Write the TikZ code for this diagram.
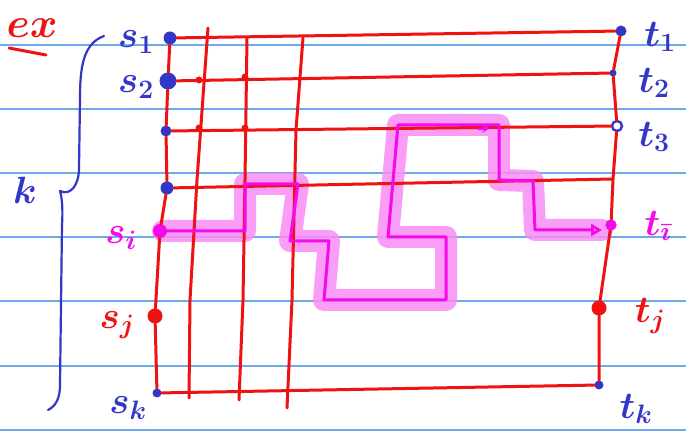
\RequirePackage{fix-cm}
\documentclass[tikz,border=0pt]{standalone}
\usetikzlibrary{arrows.meta}
\definecolor{penred}{RGB}{240,18,18}
\definecolor{penblue}{RGB}{50,55,200}
\definecolor{penmag}{RGB}{245,10,235}
\definecolor{hilite}{RGB}{250,140,245}
\definecolor{rulecol}{RGB}{110,170,235}
\tikzset{
  rule/.style={draw=rulecol, line width=1.4pt},
  redline/.style={draw=penred, line width=3pt, line cap=round, line join=round},
  bluedot/.style={circle, fill=penblue, inner sep=0pt, minimum size=#1},
  reddot/.style={circle, fill=penred, inner sep=0pt, minimum size=#1},
  magdot/.style={circle, fill=penmag, inner sep=0pt, minimum size=#1},
  ringdot/.style={circle, draw=penblue, line width=2.4pt, fill=white, inner sep=0pt, minimum size=#1},
  lab/.style={inner sep=0pt, font=\fontsize{38}{38}\selectfont\boldmath},
  hl/.style={draw=hilite, line width=22pt, line join=round, line cap=round, opacity=0.85},
  pathline/.style={draw=penmag, line width=3pt, line join=round, line cap=round},
}
\begin{document}
\begin{tikzpicture}[x=1pt,y=-1pt]
\useasboundingbox (0,0) rectangle (686,438);
\fill[white] (0,0) rectangle (686,438);
% notebook ruling
\foreach \y in {45,109,173,237,301,366,430} \draw[rule] (0,\y) -- (686,\y);

% highlighted path (under the grid)
\coordinate (p0) at (163,231);
\coordinate (p1) at (245,231);
\coordinate (p2) at (245,184);
\coordinate (p3) at (298,184);
\coordinate (p4) at (290,241);
\coordinate (p5) at (329,241);
\coordinate (p6) at (324,300);
\coordinate (p7) at (446,300);
\coordinate (p8) at (446,237);
\coordinate (p9) at (388,237);
\coordinate (p10) at (398,125);
\coordinate (p11) at (499,125);
\coordinate (p12) at (499,180);
\coordinate (p13) at (533,181);
\coordinate (p14) at (535,230);
\coordinate (p15) at (602,230);
\draw[hl] (p0) -- (p1) -- (p2) -- (p3) -- (p4) -- (p5) -- (p6) -- (p7) -- (p8) -- (p9) -- (p10) -- (p11) -- (p12) -- (p13) -- (p14) -- (p15);

% source and sink dots
\node[bluedot=13pt] (s1) at (170,38) {};
\node[bluedot=13pt, minimum height=17pt] (s2) at (168,81) {};
\node[bluedot=11pt] (s3) at (166,131) {};
\node[bluedot=13pt] (s4) at (167,188) {};
\node[magdot=14pt] (si) at (160,231) {};
\node[reddot=15pt] (sj) at (155,316) {};
\node[bluedot=9pt] (sk) at (157,393) {};
\node[bluedot=11pt] (t1) at (621,31) {};
\node[bluedot=7pt] (t2) at (613,73) {};
\node[ringdot=10pt] (t3) at (617,126) {};
\coordinate (t4) at (613,179);
\node[magdot=11pt] (ti) at (611,225) {};
\node[reddot=15pt] (tj) at (599,308) {};
\node[bluedot=9pt] (tk) at (599,385) {};

% grid: outer verticals
\draw[redline] (s1) -- (s2) -- (s3) -- (s4) -- (si) -- (sj) -- (sk);
\draw[redline] (t1) -- (t2) -- (t3) -- (t4) -- (ti) -- (tj) -- (tk);
% rows
\draw[redline] (s1) -- (t1);
\draw[redline] (s2) -- (t2);
\draw[redline] (s3) -- (t3);
\draw[redline] (s4) -- (t4);
\draw[redline] (sk) -- (tk);
% inner verticals
\coordinate (a0) at (208,28);  \coordinate (a1) at (197,180); \coordinate (a2) at (190,300); \coordinate (a3) at (189,398);
\coordinate (b0) at (247,38);  \coordinate (b1) at (245,180); \coordinate (b2) at (243,300); \coordinate (b3) at (239,400);
\coordinate (c0) at (303,38);  \coordinate (c1) at (296,130); \coordinate (c2) at (292,300); \coordinate (c3) at (287,408);
\draw[redline] (a0) -- (a1) -- (a2) -- (a3);
\draw[redline] (b0) -- (b1) -- (b2) -- (b3);
\draw[redline] (c0) -- (c1) -- (c2) -- (c3);
% small junction dots
\node[reddot=7pt] (j1) at (199,80) {};
\node[reddot=7pt] (j2) at (245,77) {};
\node[reddot=7pt] (j3) at (199,128) {};
\node[reddot=7pt] (j4) at (245,128) {};

% thin path line on top
\draw[pathline, -{Triangle[open,length=11pt,width=12pt]}] (si) -- (p1) -- (p2) -- (p3) -- (p4) -- (p5) -- (p6) -- (p7) -- (p8) -- (p9) -- (p10) -- (p11) -- (p12) -- (p13) -- (p14) -- (p15);
\coordinate (q0) at (478,129);
\coordinate (q1) at (490,128);
\draw[penmag, line width=2.4pt, -{Stealth[length=8pt,width=8pt]}] (q0) -- (q1);
\node[magdot=11pt] (ti2) at (ti) {};

% labels
\node[lab, text=penblue] (ls1) at (136,42) {$s_{1}$};
\node[lab, text=penblue] (ls2) at (136,87) {$s_{2}$};
\node[lab, text=penmag] (lsi) at (121,238) {$s_{i}$};
\node[lab, text=penred] (lsj) at (117,325) {$s_{j}$};
\node[lab, text=penblue] (lsk) at (128,408) {$s_{k}$};
\node[lab, text=penblue] (lt1) at (660,37) {$t_{1}$};
\node[lab, text=penblue] (lt2) at (654,83) {$t_{2}$};
\node[lab, text=penblue] (lt3) at (654,137) {$t_{3}$};
\node[lab, text=penmag] (lti) at (658,226) {$t_{\bar{\imath}}$};
\node[lab, text=penred] (ltj) at (650,316) {$t_{j}$};
\node[lab, text=penblue] (ltk) at (636,409) {$t_{k}$};
\node[lab, text=penblue] (lk) at (25,190) {$k$};
\node[lab, text=penred, font=\fontsize{42}{42}\selectfont\boldmath] (lex) at (32,28) {$ex$};
\coordinate (u0) at (9,48);
\coordinate (u1) at (46,55);
\draw[penred, line width=3pt, line cap=round] (u0) -- (u1);

% brace
\coordinate (br0) at (104,36);
\coordinate (br1) at (60,191);
\coordinate (br2) at (48,410);
\draw[penblue, line width=2.2pt, line cap=round, line join=round]
  (br0) .. controls (82,44) and (80,70) .. (80,100) -- (79,168)
  .. controls (79,186) and (70,196) .. (br1)
  .. controls (62,198) and (63,208) .. (62,225) -- (60,385)
  .. controls (60,398) and (56,406) .. (br2);
\end{tikzpicture}
\end{document}
